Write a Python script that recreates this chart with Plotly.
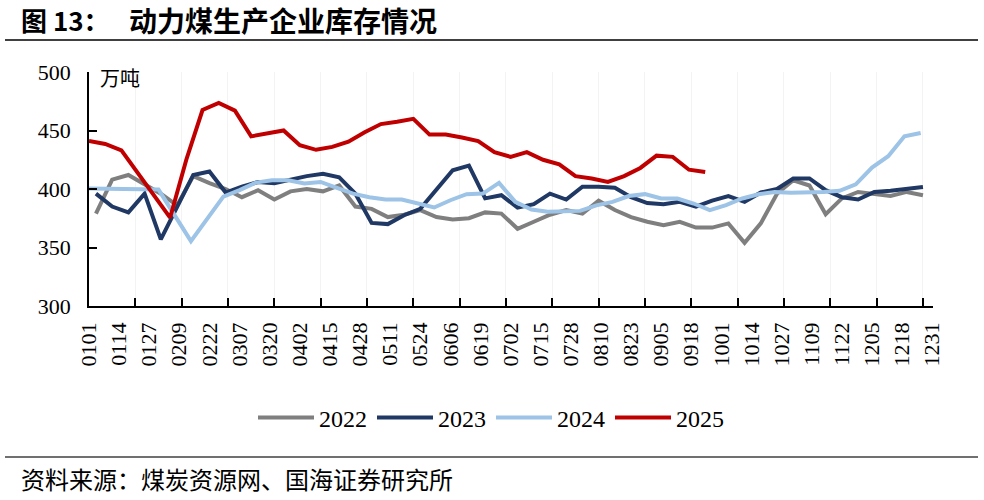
import pandas as pd
import plotly.graph_objects as go

# ---------------- data ----------------
series_names = ["2022", "2023", "2024", "2025"]

vals_2022 = [379, 408, 412, 404, 396, 386, 411, 405, 400, 393, 399, 391, 398, 400,
             398, 403, 385, 383, 376, 378, 382, 376, 374, 375, 380, 379, 366, 372,
             378, 382, 379, 390, 382, 376, 372, 369, 372, 367, 367, 370.6, 354, 370.6,
             396, 407.5, 403, 378.5, 392, 397.5, 396, 394, 397.5, 394.7]

vals_2023 = [396, 385, 380, 396, 357, 385, 412, 415, 397, 402, 406, 405, 408, 411,
             413, 410, 396, 371, 370, 377.6, 383, 399, 416, 420, 392, 394.7, 384, 387,
             396, 391, 402, 402, 401, 393, 388, 387, 389, 385, 390, 394, 389, 397,
             400, 409, 409, 399, 393, 391, 397.5, 398.5, 400, 401.8]

dates_2024_early = ["0101", "0110", "0117", "0124", "0131", "0214"]
vals_2024_early = [400.5, 400, 399.5, 399.5, 399.5, 355.5]
vals_2024_weekly = [393.5, 399, 405.5, 407.5, 407.5, 404.7, 406, 401, 396, 393, 391, 391,
                    387.5, 384.2, 390.4, 395.6, 396.1, 405.2, 389, 382.5, 380.5, 380.5,
                    381.3, 386, 389, 394, 395.6, 391.9, 391.9, 387.6, 381.9, 386.2, 391.9,
                    395.5, 397.5, 396.7, 396.7, 397.5, 398.5, 404, 418.3, 428, 445, 447.9]

vals_2025 = [441, 438.5, 433, 414, 395, 375.5, 425, 467.5, 473.5, 467, 445, 447.5, 450,
             437.5, 433.5, 436, 440.5, 448.5, 455.5, 457.5, 460, 446.5, 446.5, 444, 441,
             431.5, 427.5, 431.5, 425, 421, 411, 409, 406, 411, 418, 428.5, 427.5, 416.5,
             414.5]

start_2022 = "0104"
start_2023 = "0104"
start_2024_weekly = "0228"
start_2025 = "0101"

colors = {"2022": "#7f7f7f", "2023": "#203864", "2024": "#9dc3e6", "2025": "#c00000"}

YEAR = "2021"  # common (non-leap) year used for the month-day axis


def weekly(start, n):
    return pd.date_range(f"{YEAR}-{start[:2]}-{start[2:]}", periods=n, freq="7D")


def md(lst):
    return pd.to_datetime([f"{YEAR}-{s[:2]}-{s[2:]}" for s in lst])


x_2022 = weekly(start_2022, len(vals_2022))
x_2023 = weekly(start_2023, len(vals_2023))
x_2024 = md(dates_2024_early).append(weekly(start_2024_weekly, len(vals_2024_weekly)))
y_2024 = vals_2024_early + vals_2024_weekly
x_2025 = weekly(start_2025, len(vals_2025))

data = {
    "2022": (x_2022, vals_2022),
    "2023": (x_2023, vals_2023),
    "2024": (x_2024, y_2024),
    "2025": (x_2025, vals_2025),
}

# ---------------- figure ----------------
DAY = 86400000
SERIF = "Liberation Serif"
CJK = "Noto Sans CJK SC"

fig = go.Figure()
for name in series_names:
    xs, ys = data[name]
    fig.add_trace(go.Scatter(x=xs, y=ys, mode="lines", name=name,
                             line=dict(color=colors[name], width=4)))

# dummy trace so the tick-mark axis is drawn
fig.add_trace(go.Scatter(x=[f"{YEAR}-01-01"], y=[None], xaxis="x2", mode="lines",
                         showlegend=False, hoverinfo="skip"))

x_range = [f"{YEAR}-01-01", f"{YEAR}-12-31 08:00"]

# plot-area pixel geometry
L, R, T, B = 89, 933, 72, 306
W, H = 984, 500


def px(x):
    return (x - L) / (R - L)


def py(y):
    return (B - y) / (B - T)


fig.update_layout(
    width=W, height=H,
    margin=dict(l=L, r=W - R, t=T, b=H - B, autoexpand=False),
    paper_bgcolor="white", plot_bgcolor="white",
    showlegend=True,
    legend=dict(orientation="h", x=px(491), y=py(418), xanchor="center", yanchor="middle",
                font=dict(family=SERIF, size=24, color="black"),
                itemwidth=56,
                entrywidth=48, entrywidthmode="pixels", bgcolor="rgba(0,0,0,0)"),
    xaxis=dict(type="date", range=x_range, tick0=f"{YEAR}-01-01", dtick=13 * DAY,
               tickformat="%m%d", tickangle=-90, ticks="", showgrid=False,
               showline=True, linecolor="black", linewidth=1.5, zeroline=False,
               ticklabelstandoff=6, automargin=False,
               tickfont=dict(family=SERIF, size=22, color="black")),
    xaxis2=dict(type="date", range=x_range, overlaying="x", anchor="y", side="bottom",
                tick0=f"{YEAR}-01-01", dtick=20 * DAY, ticks="inside", ticklen=8,
                tickwidth=1.5, tickcolor="black", showticklabels=False,
                showgrid=True, gridcolor="#f3f3f3", gridwidth=1, showline=False,
                zeroline=False),
    yaxis=dict(range=[300, 500], tickvals=[300, 350, 400, 450, 500], ticks="inside",
               ticklen=8, tickwidth=1.5, tickcolor="black", showline=True,
               linecolor="black", linewidth=1.5, showgrid=False, zeroline=False,
               ticklabelstandoff=12, automargin=False,
               tickfont=dict(family=SERIF, size=22, color="black")),
    hovermode=False,
)

annotations = [
    dict(text="<b>图 13：</b>", x=px(19), y=py(20), xref="paper", yref="paper",
         xanchor="left", yanchor="middle", showarrow=False,
         font=dict(family=CJK, size=26, color="black")),
    dict(text="<b>动力煤生产企业库存情况</b>", x=px(127), y=py(20), xref="paper", yref="paper",
         xanchor="left", yanchor="middle", showarrow=False,
         font=dict(family=CJK, size=28, color="black")),
    dict(text="万吨", x=px(98), y=py(77), xref="paper", yref="paper",
         xanchor="left", yanchor="middle", showarrow=False,
         font=dict(family=CJK, size=20, color="black")),
    dict(text="资料来源：煤炭资源网、国海证券研究所", x=px(19), y=py(478), xref="paper", yref="paper",
         xanchor="left", yanchor="middle", showarrow=False,
         font=dict(family=CJK, size=24, color="black")),
]
fig.update_layout(annotations=annotations)

shapes = [
    dict(type="line", xref="paper", yref="paper", x0=px(5), x1=px(978), y0=py(40), y1=py(40),
         line=dict(color="#404040", width=2)),
    dict(type="line", xref="paper", yref="paper", x0=px(5), x1=px(978), y0=py(457), y1=py(457),
         line=dict(color="#404040", width=1.5)),
]
fig.update_layout(shapes=shapes)

fig.write_html("out.html", config={"displayModeBar": False},
               post_script="document.body.style.margin='0px';")
